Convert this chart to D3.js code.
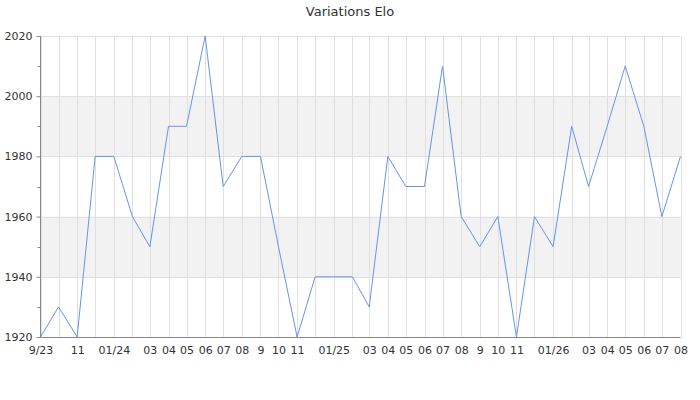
<!DOCTYPE html>
<html><head><meta charset="utf-8">
<script src="https://cdn.jsdelivr.net/npm/d3@7"></script>
<style>body{margin:0;background:#fff}svg{display:block;font-family:"DejaVu Sans",sans-serif}</style>
</head><body>
<svg id="c" width="700" height="400"></svg>
<script>
const months = ["2023-09","2023-10","2023-11","2023-12","2024-01","2024-02","2024-03","2024-04","2024-05","2024-06","2024-07","2024-08","2024-09","2024-10","2024-11","2024-12","2025-01","2025-02","2025-03","2025-04","2025-05","2025-06","2025-07","2025-08","2025-09","2025-10","2025-11","2025-12","2026-01","2026-02","2026-03","2026-04","2026-05","2026-06","2026-07","2026-08"];
const elo = [1920,1930,1920,1980,1980,1960,1950,1990,1990,2020,1970,1980,1980,1950,1920,1940,1940,1940,1930,1980,1970,1970,2010,1960,1950,1960,1920,1960,1950,1990,1970,1990,2010,1990,1960,1980];
const xTickLabels = ["9/23","","11","","01/24","","03","04","05","06","07","08","9","10","11","","01/25","","03","04","05","06","07","08","9","10","11","","01/26","","03","04","05","06","07","08"];
const yTicks = [1920,1940,1960,1980,2000,2020];
const yMinorTicks = [1930,1950,1970,1990,2010];
const bands = [[1940,1960],[1980,2000]];
const title = "Variations Elo";

const parse = d3.timeParse("%Y-%m");
const dates = months.map(parse);
const svg = d3.select("#c");
const L = 40, R = 680.5, T = 36, B = 337;
const x = d3.scaleTime().domain(d3.extent(dates)).range([L + 0.5, R]);
const y = d3.scaleLinear().domain([1920, 2020]).range([B, T]);

svg.append("text").attr("x", 350).attr("y", 16).attr("text-anchor", "middle")
  .attr("font-size", 13).attr("fill", "#333").text(title);

// bands
svg.append("g").selectAll("rect").data(bands).join("rect")
  .attr("x", L).attr("width", R - L)
  .attr("y", d => y(d[1])).attr("height", d => y(d[0]) - y(d[1]))
  .attr("fill", "#f2f2f2");

// vertical grid
svg.append("g").selectAll("line").data(dates).join("line")
  .attr("x1", d => Math.round(x(d)) + 0.5).attr("x2", d => Math.round(x(d)) + 0.5)
  .attr("y1", T).attr("y2", B).attr("stroke", "#e0e0e0").attr("stroke-width", 1);

// horizontal grid
svg.append("g").selectAll("line").data(yTicks).join("line")
  .attr("x1", L).attr("x2", R)
  .attr("y1", d => Math.round(y(d)) + 0.5).attr("y2", d => Math.round(y(d)) + 0.5)
  .attr("stroke", "#e0e0e0").attr("stroke-width", 1);

// line
svg.append("path").datum(elo.map((v, i) => [dates[i], v]))
  .attr("fill", "none").attr("stroke", "#6495ed").attr("stroke-width", 1)
  .attr("d", d3.line().x(d => x(d[0])).y(d => y(d[1])));

// y axis
const ya = svg.append("g").attr("transform", `translate(${L + 0.5},0)`)
  .call(d3.axisLeft(y).tickValues(yTicks).tickSize(4).tickPadding(4).tickFormat(d3.format("d")));
ya.select(".domain").attr("stroke", "#888").attr("d", `M0,${T}V${B}`);
ya.selectAll(".tick line").attr("stroke", "#888");
ya.selectAll("text").attr("font-size", 11).attr("fill", "#333").attr("font-family", "DejaVu Sans");
svg.append("g").attr("transform", `translate(${L + 0.5},0)`).selectAll("line").data(yMinorTicks).join("line")
  .attr("x1", -3).attr("x2", 0).attr("y1", d => Math.round(y(d)) + 0.5).attr("y2", d => Math.round(y(d)) + 0.5)
  .attr("stroke", "#888");

// x axis
const xa = svg.append("g").attr("transform", `translate(0,${B + 0.5})`)
  .call(d3.axisBottom(x).tickValues(dates).tickSize(0).tickPadding(9)
    .tickFormat((d, i) => xTickLabels[i]));
xa.select(".domain").attr("stroke", "#888").attr("d", `M${L},0H${R}`);
xa.selectAll("text").attr("font-size", 11).attr("fill", "#333").attr("font-family", "DejaVu Sans");
</script>
</body></html>
